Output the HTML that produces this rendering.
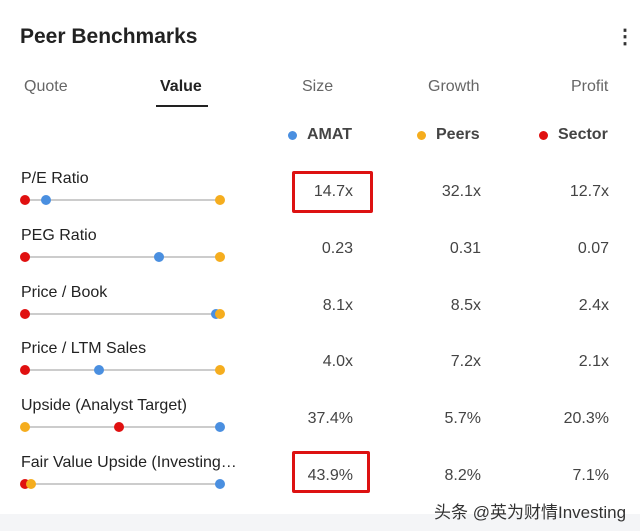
<!DOCTYPE html><html><head><meta charset="utf-8"><style>
body{margin:0;width:640px;height:531px;background:#f4f5f7;position:relative;overflow:hidden;font-family:"Liberation Sans","Noto Sans CJK SC",sans-serif;}
.card{position:absolute;left:0;top:0;width:640px;height:514px;background:#fff;}
.a{position:absolute;white-space:nowrap;}
.t{font-size:16px;color:#666;top:78px;}
.lbl{font-size:16px;color:#222;left:21px;}
.v{font-size:16px;color:#444;text-align:right;width:100px;}
.line{position:absolute;left:25px;width:195px;height:2px;background:#ccc;}
.d{position:absolute;width:10px;height:10px;border-radius:50%;}
.r{background:#e01010}.b{background:#4a8fe0}.y{background:#f5ad1e}
.box{position:absolute;border:3px solid #dd1111;border-radius:2px;}
</style></head><body><div class="card"></div>
<div class="a" style="left:20px;top:25px;font-size:21px;font-weight:bold;color:#222">Peer Benchmarks</div>
<div class="a" style="left:615px;top:24px;font-size:20px;font-weight:bold;color:#333">&#8942;</div>
<div class="a t" style="left:24px">Quote</div>
<div class="a t" style="left:160px;font-weight:bold;color:#222">Value</div>
<div style="position:absolute;left:156px;top:105px;width:52px;height:2px;background:#222"></div>
<div class="a t" style="left:302px">Size</div>
<div class="a t" style="left:428px">Growth</div>
<div class="a t" style="left:571px">Profit</div>
<div class="d b" style="left:288px;top:131px;width:9px;height:9px"></div><div class="a" style="left:307px;top:126px;font-size:16px;font-weight:bold;color:#444">AMAT</div>
<div class="d y" style="left:417px;top:131px;width:9px;height:9px"></div><div class="a" style="left:436px;top:126px;font-size:16px;font-weight:bold;color:#444">Peers</div>
<div class="d r" style="left:539px;top:131px;width:9px;height:9px"></div><div class="a" style="left:558px;top:126px;font-size:16px;font-weight:bold;color:#444">Sector</div>

<div class="box" style="left:292px;top:171px;width:75px;height:36px"></div>
<div class="box" style="left:292px;top:451px;width:72px;height:36px"></div>

<div id="rows"></div>
<script>
var R=[["P/E Ratio","14.7x","32.1x","12.7x",[["r",25],["b",46],["y",220]]],
["PEG Ratio","0.23","0.31","0.07",[["r",25],["b",159],["y",220]]],
["Price / Book","8.1x","8.5x","2.4x",[["r",25],["b",216],["y",220]]],
["Price / LTM Sales","4.0x","7.2x","2.1x",[["r",25],["b",99],["y",220]]],
["Upside (Analyst Target)","37.4%","5.7%","20.3%",[["y",25],["r",119],["b",220]]],
["Fair Value Upside (Investing…","43.9%","8.2%","7.1%",[["r",25],["y",31],["b",220]]]];
var h="";R.forEach(function(r,i){var y=168+i*56.8;
h+='<div class="a lbl" style="top:'+(y+2)+'px">'+r[0]+'</div>';
h+='<div class="line" style="top:'+(y+31)+'px"></div>';
r[4].forEach(function(d){h+='<div class="d '+d[0]+'" style="left:'+(d[1]-5)+'px;top:'+(y+27)+'px"></div>';});
var vy=y+15;
h+='<div class="a v" style="left:253px;top:'+vy+'px">'+r[1]+'</div>';
h+='<div class="a v" style="left:381px;top:'+vy+'px">'+r[2]+'</div>';
h+='<div class="a v" style="left:509px;top:'+vy+'px">'+r[3]+'</div>';});
document.getElementById("rows").innerHTML=h;
</script>
<div class="a" style="left:434px;top:498px;font-size:17px;color:#333">头条 @英为财情Investing</div>
</body></html>
